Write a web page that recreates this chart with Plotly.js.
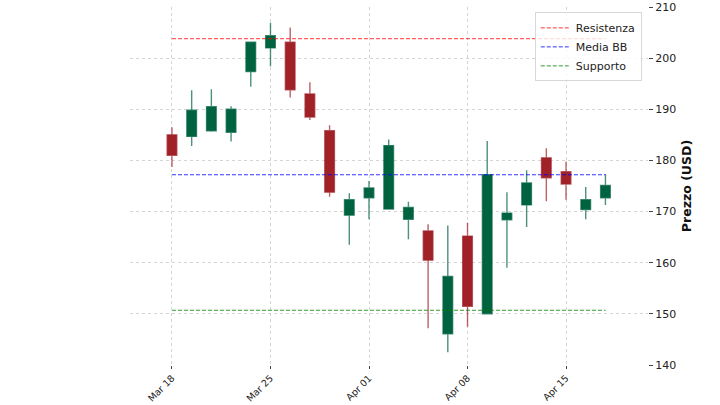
<!DOCTYPE html>
<html>
<head>
<meta charset="utf-8">
<script src="https://cdn.plot.ly/plotly-3.0.1.min.js"></script>
<style>html,body{margin:0;padding:0;background:#fff;}#chart{width:720px;height:405px;}</style>
</head>
<body>
<div id="chart"></div>
<script>
const dates = ['2024-03-18','2024-03-19','2024-03-20','2024-03-21','2024-03-22',
  '2024-03-25','2024-03-26','2024-03-27','2024-03-28','2024-03-29',
  '2024-04-01','2024-04-02','2024-04-03','2024-04-04','2024-04-05',
  '2024-04-08','2024-04-09','2024-04-10','2024-04-11','2024-04-12',
  '2024-04-15','2024-04-16','2024-04-17'];
const openP  = [185.0,184.7,185.8,185.5,197.4,202.0,203.1,193.0,185.8,169.3,172.7,170.5,168.5,166.2,146.1,165.2,150.0,168.4,171.3,180.5,177.8,170.4,172.7];
const highP  = [186.5,193.7,193.9,190.6,203.2,206.9,206.0,195.3,186.9,173.6,176.0,184.1,171.9,167.5,167.3,167.8,183.8,173.8,178.1,182.4,179.8,174.8,177.3];
const lowP   = [178.7,182.8,185.6,183.7,194.4,198.4,192.3,187.9,172.9,163.5,168.5,170.4,164.6,147.2,142.5,147.5,150.0,159.0,167.0,172.0,172.3,168.5,171.3];
const closeP = [181.0,189.8,190.5,190.0,203.1,204.4,193.8,188.5,173.8,172.3,174.6,182.9,170.8,160.5,157.3,151.5,177.2,169.7,175.6,176.6,175.4,172.3,175.1];
const resistenza = 203.8;
const mediaBB = 177.2;
const supporto = 150.7;
const tickDates = ['2024-03-18','2024-03-25','2024-04-01','2024-04-08','2024-04-15'];
const tickLabels = ['Mar 18','Mar 25','Apr 01','Apr 08','Apr 15'];

const flat = v => dates.map(() => v);
const font = 'DejaVu Sans, sans-serif';

const traces = [
  {
    type: 'candlestick', x: dates, open: openP, high: highP, low: lowP, close: closeP,
    increasing: {fillcolor: '#006340', line: {color: 'rgba(0,99,64,0.7)', width: 1.4}},
    decreasing: {fillcolor: '#a02128', line: {color: 'rgba(160,33,40,0.7)', width: 1.4}},
    showlegend: false, hoverinfo: 'x+y'
  },
  {type: 'scatter', mode: 'lines', name: 'Resistenza', x: dates, y: flat(resistenza),
   line: {color: 'rgba(255,0,0,0.8)', width: 1, dash: '4px,2px'}},
  {type: 'scatter', mode: 'lines', name: 'Media BB', x: dates, y: flat(mediaBB),
   line: {color: 'rgba(0,0,255,0.8)', width: 1, dash: '4px,2px'}},
  {type: 'scatter', mode: 'lines', name: 'Supporto', x: dates, y: flat(supporto),
   line: {color: 'rgba(0,128,0,0.8)', width: 1, dash: '4px,2px'}}
];

const layout = {
  width: 720, height: 405,
  margin: {l: 130, r: 72, t: 7, b: 40},
  paper_bgcolor: '#fff', plot_bgcolor: '#fff',
  font: {family: font, size: 11, color: '#222'},
  showlegend: true,
  legend: {x: 0.988, xanchor: 'right', y: 0.985, yanchor: 'top',
    bgcolor: 'rgba(255,255,255,0.8)', bordercolor: '#d8d8d8', borderwidth: 1,
    font: {family: font, size: 11, color: '#222'}, tracegroupgap: 0},
  xaxis: {
    type: 'category', range: [-2.13, 24.16],
    rangeslider: {visible: false},
    tickmode: 'array', tickvals: tickDates, ticktext: tickLabels,
    tickangle: -45, ticks: 'outside', ticklen: 3, tickcolor: '#444',
    showgrid: true, gridcolor: '#d4d4d4', griddash: 'dot', gridwidth: 1,
    showline: false, zeroline: false,
    tickfont: {family: font, size: 9.5, color: '#222'}
  },
  yaxis: {
    side: 'right', range: [140, 210],
    tickmode: 'linear', tick0: 140, dtick: 10,
    ticks: 'outside', ticklen: 4, tickcolor: '#444',
    showgrid: true, gridcolor: '#d4d4d4', griddash: 'dot', gridwidth: 1,
    showline: false, zeroline: false,
    tickfont: {family: font, size: 11, color: '#222'},
    title: {text: '<b>Prezzo (USD)</b>', font: {family: font, size: 12.5, color: '#111'}, standoff: 7}
  }
};

Plotly.newPlot('chart', traces, layout, {staticPlot: true, displayModeBar: false});
</script>
</body>
</html>
